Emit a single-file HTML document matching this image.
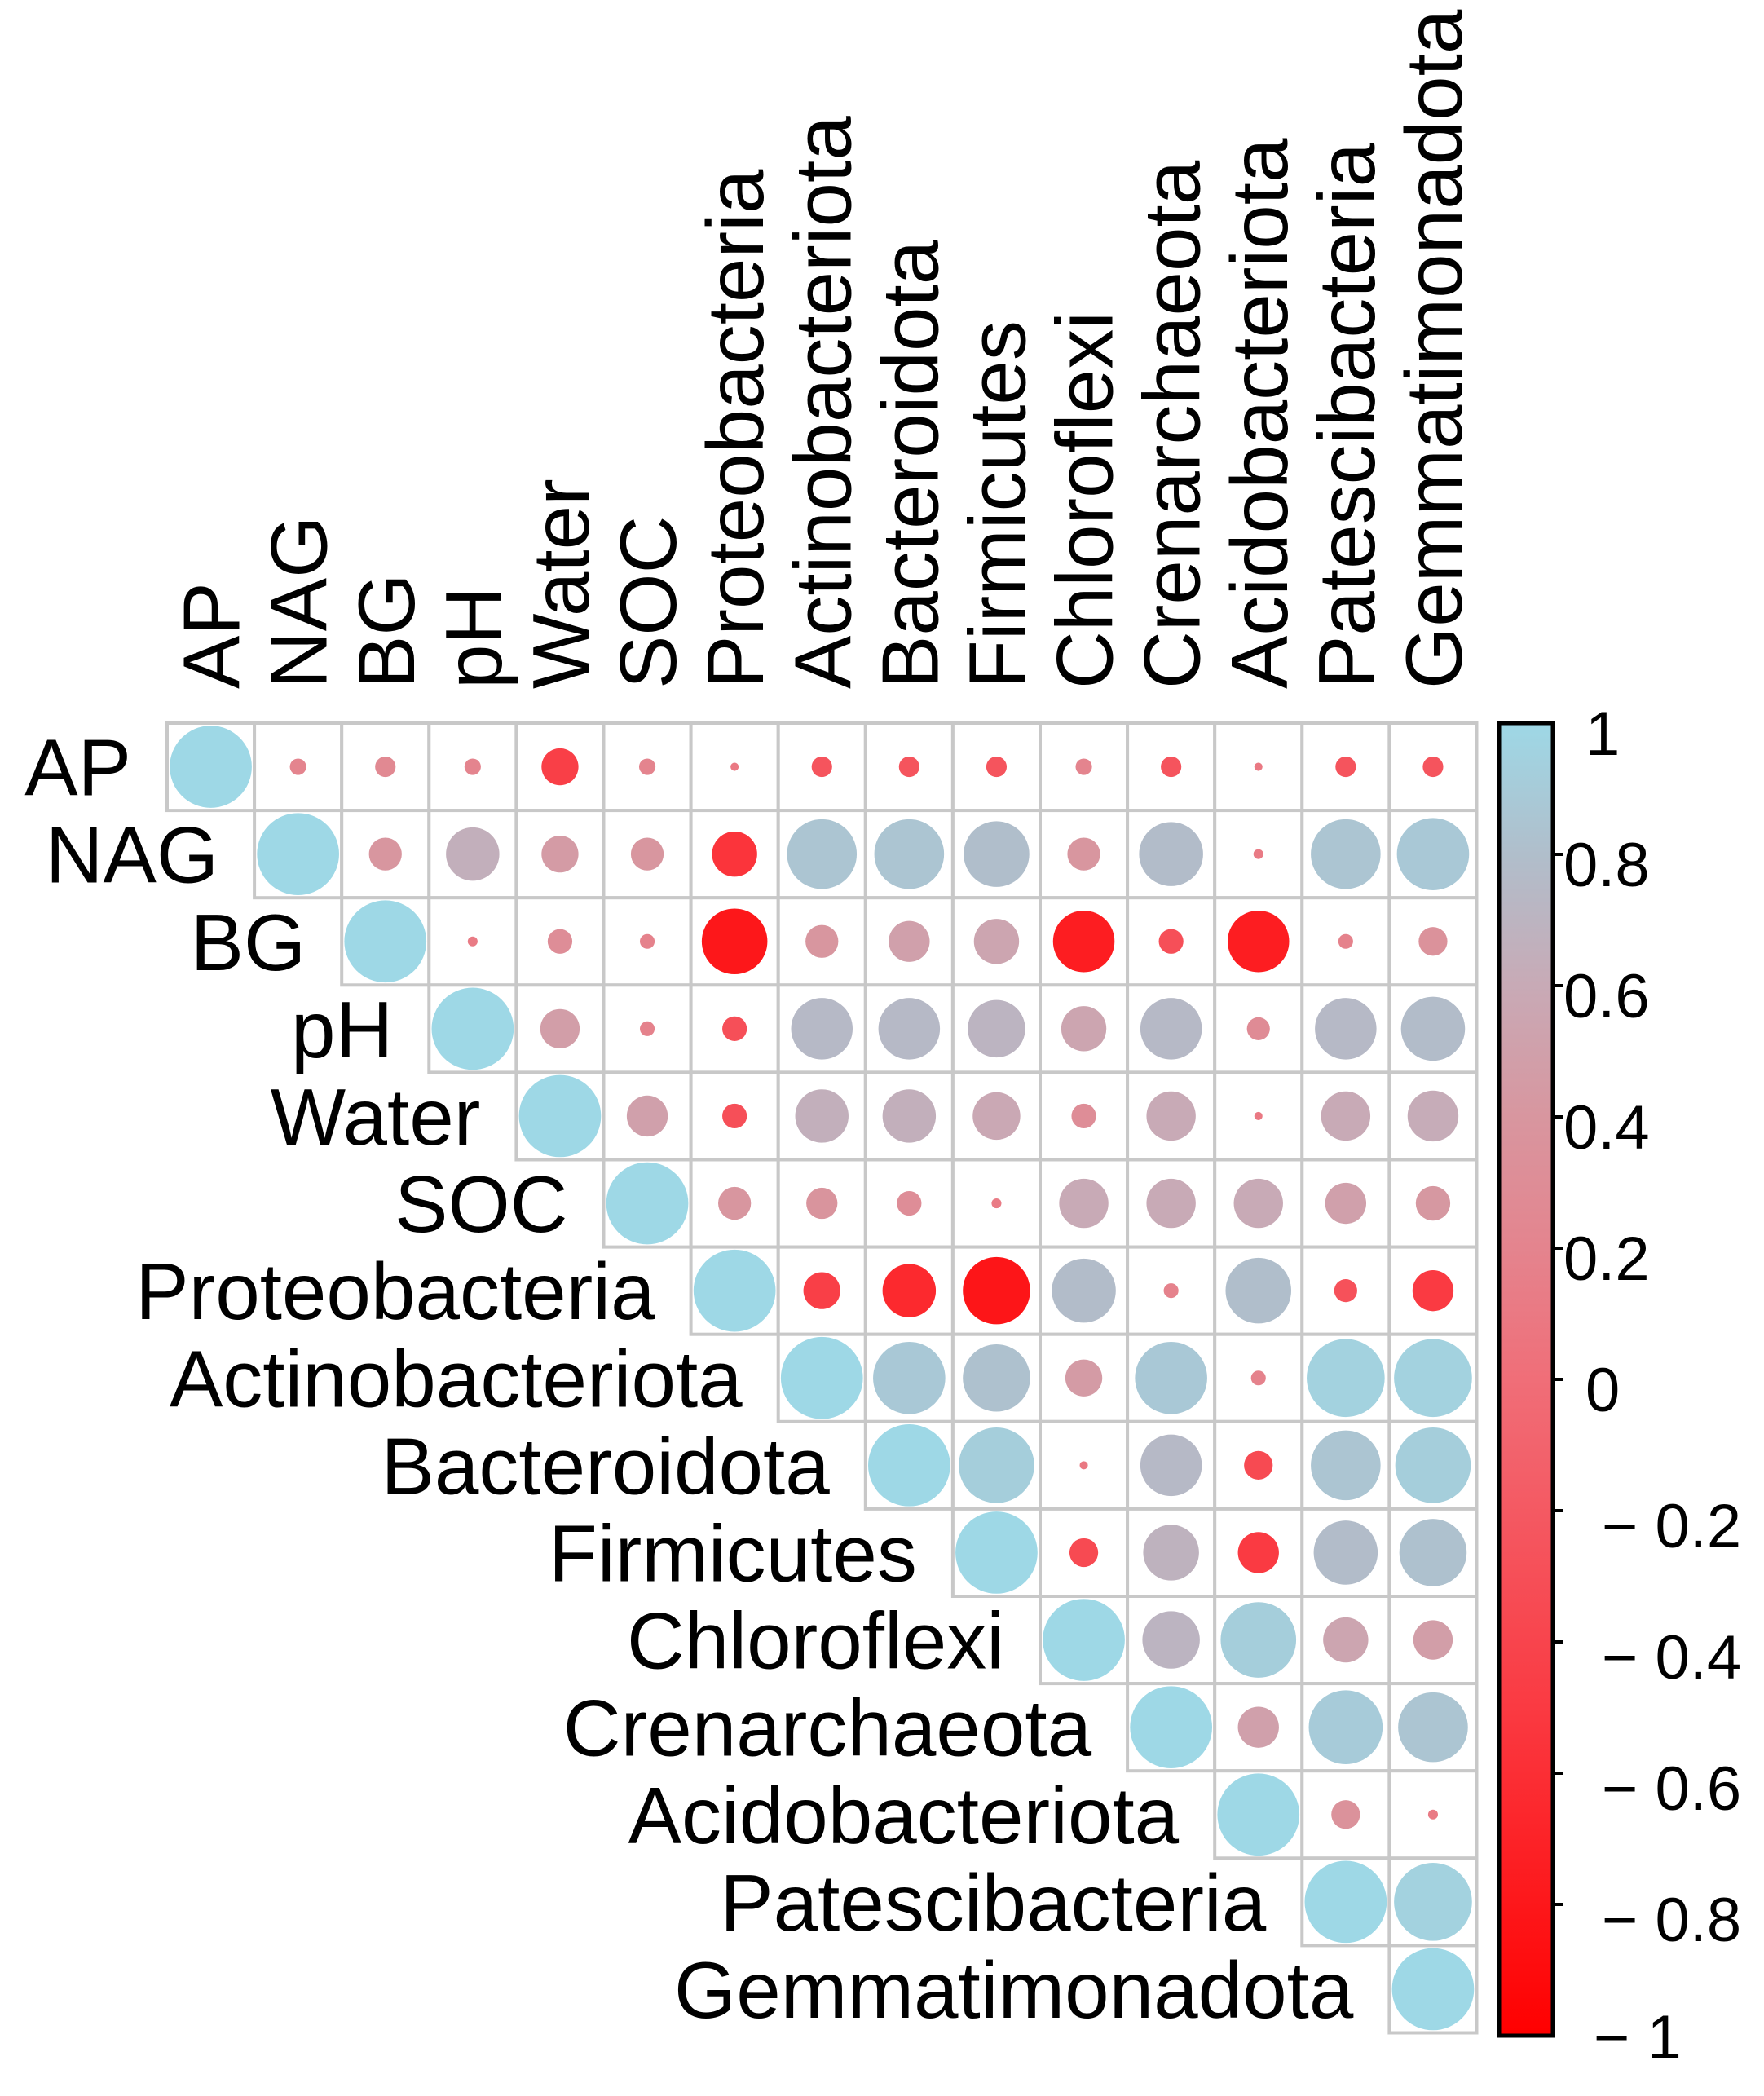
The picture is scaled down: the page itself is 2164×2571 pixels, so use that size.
<!DOCTYPE html>
<html><head><meta charset="utf-8"><style>
html,body{margin:0;padding:0;background:#fff;width:2164px;height:2571px;overflow:hidden}
svg{display:block}
text{font-family:"Liberation Sans",Arial,sans-serif;fill:#000}
</style></head><body>
<svg id="s" width="2164" height="2571" viewBox="0 0 2164 2571" xmlns="http://www.w3.org/2000/svg">
<defs>
<linearGradient id="cb" x1="0" y1="1" x2="0" y2="0">
<stop offset="0" stop-color="#FF0000"/>
<stop offset="0.25" stop-color="#FA3A42"/>
<stop offset="0.5" stop-color="#F06E78"/>
<stop offset="0.6" stop-color="#E4848E"/>
<stop offset="0.7" stop-color="#D8969F"/>
<stop offset="0.8" stop-color="#C8AAB6"/>
<stop offset="0.9" stop-color="#B0BECB"/>
<stop offset="1" stop-color="#9ED8E6"/>
</linearGradient>
</defs>
</svg>
<script>
var names=["AP","NAG","BG","pH","Water","SOC","Proteobacteria","Actinobacteriota","Bacteroidota","Firmicutes","Chloroflexi","Crenarchaeota","Acidobacteriota","Patescibacteria","Gemmatimonadota"];
var M=[
[1,.2,.25,.2,-.45,.2,.1,-.25,-.25,-.25,.2,-.25,.1,-.25,-.25],
[1,.4,.65,.45,.4,-.55,.85,.85,.8,.4,.78,.12,.85,.88],
[1,.12,.3,.18,-.8,.4,.5,.55,-.75,-.3,-.75,.18,.35],
[1,.48,.18,-.3,.75,.75,.7,.55,.75,.28,.75,.78],
[1,.5,-.3,.65,.65,.58,.3,.6,.1,.6,.62],
[1,.4,.38,.3,.12,.6,.6,.6,.5,.42],
[1,-.45,-.65,-.82,.78,.18,.8,-.28,-.5],
[1,.88,.82,.45,.88,.18,.95,.95],
[1,.92,.1,.75,-.35,.85,.92],
[1,-.35,.68,-.5,.78,.82],
[1,.7,.92,.55,.48],
[1,.5,.9,.85],
[1,.35,.12],
[1,.95],
[1]];
var stops=[[-1,[255,0,0]],[-.5,[250,58,66]],[0,[240,110,120]],[.2,[228,132,142]],[.4,[216,150,159]],[.6,[200,170,182]],[.8,[176,190,203]],[1,[158,216,230]]];
function col(v){for(var i=0;i<stops.length-1;i++){var a=stops[i],b=stops[i+1];if(v<=b[0]){var t=(v-a[0])/(b[0]-a[0]);var c=a[1].map(function(x,k){return Math.round(x+(b[1][k]-x)*t)});return "rgb("+c.join(",")+")";}}return "rgb(158,216,230)";}
var L=205,T=887,C=107.1,h="";
for(var i=0;i<15;i++){
 for(var j=i;j<15;j++){
  var x=L+j*C,y=T+i*C;
  h+='<rect x="'+x+'" y="'+y+'" width="'+C+'" height="'+C+'" fill="#fff" stroke="#C8C8C8" stroke-width="4"/>';
 }
}
for(var i=0;i<15;i++){
 for(var j=i;j<15;j++){
  var v=M[i][j-i],r=Math.max(5,Math.abs(v)*C*0.47);
  h+='<circle cx="'+(L+j*C+C/2)+'" cy="'+(T+i*C+C/2)+'" r="'+r+'" fill="'+col(v)+'"/>';
 }
 h+='<text x="'+(L+i*C-44)+'" y="'+(T+i*C+C/2+35)+'" font-size="98" text-anchor="end">'+names[i]+'</text>';
 var cx=L+i*C+C/2+35;
 h+='<text transform="translate('+cx+',845) rotate(-90)" font-size="98">'+names[i]+'</text>';
}
h+='<rect x="1839" y="887" width="66" height="1610" fill="url(#cb)" stroke="#000" stroke-width="5"/>';
var labs=["1","0.8","0.6","0.4","0.2","0","− 0.2","− 0.4","− 0.6","− 0.8","− 1"];
for(var k=0;k<11;k++){
 var y=887+k*161;
 if(k>0&&k<10)h+='<line x1="1905" x2="1918" y1="'+y+'" y2="'+y+'" stroke="#000" stroke-width="4"/>';
 var x=(k==0||k==5)?1945:(k<5?1918:(k==10?1955:1965));
 var dy=(k==10)?28:(k>5?45:39);
 h+='<text x="'+x+'" y="'+(y+dy)+'" font-size="76">'+labs[k]+'</text>';
}
document.getElementById("s").insertAdjacentHTML("beforeend",h);
</script>
</body></html>
